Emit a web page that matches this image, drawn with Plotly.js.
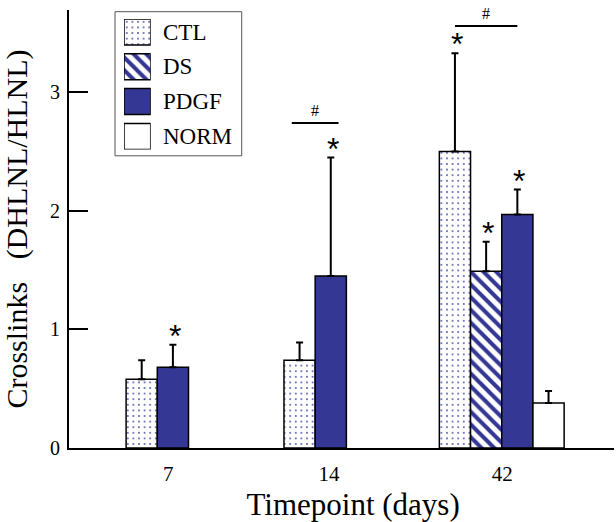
<!DOCTYPE html>
<html>
<head>
<meta charset="utf-8">
<script src="https://cdn.plot.ly/plotly-3.0.1.min.js"></script>
<style>html,body{margin:0;padding:0;background:#fff;}#chart{width:616px;height:522px;}</style>
</head>
<body>
<div id="chart"></div>
<script>
// ---------------- DATA ----------------
const categories = ['7', '14', '42'];
const seriesNames = ['CTL', 'DS', 'PDGF', 'NORM'];
const ctlMean  = [0.58, 0.74, 2.50];
const ctlSd    = [0.16, 0.15, 0.83];
const dsMean   = [null, null, 1.49];
const dsSd     = [null, null, 0.25];
const pdgfMean = [0.68, 1.45, 1.97];
const pdgfSd   = [0.19, 1.00, 0.21];
const normMean = [null, null, 0.38];
const normSd   = [null, null, 0.10];
// significance vs. normal (*)
const ctlStar  = [false, false, true];
const dsStar   = [false, false, true];
const pdgfStar = [true, true, true];
const normStar = [false, false, false];
// significance between groups (#)
const hashCategory = ['14', '42'];
const hashFrom     = ['CTL', 'CTL'];
const hashTo       = ['PDGF', 'PDGF'];
const hashLevel    = [2.74, 3.56];
const yTickVals = [0, 1, 2, 3];

// ---------------- LAYOUT CONSTANTS ----------------
const FONT = 'Liberation Serif, Times New Roman, serif';
const BLUE = '#343894';
const plotL = 69, plotR = 614, plotT = 10, plotB = 447.7, W = 616, H = 522;
const barPx = 31.2;                       // bar width in pixels = 1 axis unit
const xMax = (plotR - plotL) / barPx;
const groupCenter = [2.83, 7.89, 13.87];  // axis units
const labelShift  = [0.35, 0.44, 0.02];   // tick label offset of the original figure
const hashExt     = [0.25, 0.0];
const yMax = 3.694;

const means = {CTL: ctlMean, DS: dsMean, PDGF: pdgfMean, NORM: normMean};
const sds   = {CTL: ctlSd, DS: dsSd, PDGF: pdgfSd, NORM: normSd};
const stars = {CTL: ctlStar, DS: dsStar, PDGF: pdgfStar, NORM: normStar};
const styles = {
  CTL:  {color: '#ffffff', pattern: {shape: '.', fgcolor: '#4045a0', bgcolor: '#ffffff', size: 5.6, solidity: 0.08, fillmode: 'replace'}},
  DS:   {color: '#ffffff', pattern: {shape: '\\', fgcolor: BLUE, bgcolor: '#ffffff', size: 9, solidity: 0.45, fillmode: 'replace'}},
  PDGF: {color: BLUE},
  NORM: {color: '#ffffff'}
};

// positions of bars: present series placed side by side around the group centre
const pos = {};
seriesNames.forEach(s => pos[s] = categories.map(() => null));
categories.forEach((c, i) => {
  const present = seriesNames.filter(s => means[s][i] !== null);
  present.forEach((s, k) => { pos[s][i] = groupCenter[i] + (k - (present.length - 1) / 2); });
});

const traces = [];
const annotations = [];
const shapes = [];

seriesNames.forEach(s => {
  const xs = [], ys = [], es = [], em = [];
  categories.forEach((c, i) => {
    if (means[s][i] === null) return;
    xs.push(pos[s][i]); ys.push(means[s][i]); es.push(sds[s][i]); em.push(0);
    if (stars[s][i]) {
      annotations.push({x: pos[s][i], y: means[s][i] + sds[s][i], xref: 'x', yref: 'y',
        text: '*', showarrow: false, xshift: 2, yshift: 9, yanchor: 'middle',
        font: {family: 'Liberation Sans, Arial, sans-serif', size: 32, color: '#000'}});
    }
  });
  const m = {color: styles[s].color, line: {color: '#000', width: 1.5}};
  if (styles[s].pattern) m.pattern = styles[s].pattern;
  traces.push({type: 'bar', name: s, x: xs, y: ys, width: 1, marker: m, showlegend: false,
    error_y: {type: 'data', symmetric: false, array: es, arrayminus: em, color: '#000', thickness: 2, width: 3.5},
    hoverinfo: 'skip'});
});

// # brackets
hashCategory.forEach((c, j) => {
  const i = categories.indexOf(c);
  const x0 = pos[hashFrom[j]][i] - hashExt[j], x1 = pos[hashTo[j]][i] + hashExt[j];
  shapes.push({type: 'line', xref: 'x', yref: 'y', x0: x0, x1: x1, y0: hashLevel[j], y1: hashLevel[j],
    line: {color: '#000', width: 2}});
  annotations.push({x: (x0 + x1) / 2, y: hashLevel[j], xref: 'x', yref: 'y', text: '#', showarrow: false,
    yanchor: 'bottom', yshift: 2, font: {family: FONT, size: 16, color: '#000'}});
});

// custom legend (large swatches) drawn as a small inset subplot
const px2x = p => (p - plotL) / (plotR - plotL);
const px2y = p => (plotB - p) / (plotB - plotT);
const swL = 124, swR = 150.7, swTop = 19, swH = 26, swStep = 34.77;
const legH = swStep * (seriesNames.length - 1) + swH;
seriesNames.forEach((s, j) => {
  const m = {color: styles[s].color, line: {color: '#000', width: 1.5}};
  if (styles[s].pattern) m.pattern = styles[s].pattern;
  traces.push({type: 'bar', x: [0], y: [swH], base: [j * swStep], width: 1, xaxis: 'x2', yaxis: 'y2',
    marker: m, showlegend: false, hoverinfo: 'skip'});
  annotations.push({xref: 'paper', yref: 'paper', x: px2x(161), y: px2y(swTop + j * swStep + swH / 2),
    xanchor: 'left', yanchor: 'middle', text: s, showarrow: false, font: {family: FONT, size: 23, color: '#000'}});
});
shapes.push({type: 'rect', xref: 'paper', yref: 'paper', x0: px2x(115), x1: px2x(241.7), y0: px2y(155.7), y1: px2y(11.7),
  line: {color: '#555', width: 1}, fillcolor: 'rgba(0,0,0,0)', layer: 'below'});

const layout = {
  width: W, height: H,
  margin: {l: plotL, r: W - plotR, t: plotT, b: H - plotB, pad: 0},
  paper_bgcolor: '#fff', plot_bgcolor: '#fff',
  barmode: 'overlay',
  showlegend: false,
  font: {family: FONT, color: '#000'},
  xaxis: {range: [0, xMax], showgrid: false, zeroline: false, showline: true, linecolor: '#000', linewidth: 2,
    ticks: '', tickvals: groupCenter.map((g, i) => g + labelShift[i]), ticktext: categories,
    tickfont: {family: FONT, size: 21, color: '#000'}, ticklabelstandoff: 6,
    title: {text: '\u200b\u00a0\u00a0\u00a0Timepoint (days)', font: {family: FONT, size: 31, color: '#000'}, standoff: 8}},
  yaxis: {range: [0, yMax], showgrid: false, zeroline: false, showline: true, linecolor: '#000', linewidth: 2,
    ticks: 'inside', ticklen: 19, tickwidth: 2, tickcolor: '#000', tickvals: yTickVals,
    tickfont: {family: FONT, size: 20, color: '#000'}, ticklabelstandoff: 3,
    title: {text: 'Crosslinks\u00a0\u00a0\u00a0(DHLNL/HLNL)', font: {family: FONT, size: 30, color: '#000'}, standoff: 17}},
  xaxis2: {domain: [px2x(swL), px2x(swR)], range: [-0.5, 0.5], visible: false, anchor: 'y2', fixedrange: true},
  yaxis2: {domain: [px2y(swTop + legH), px2y(swTop)], range: [legH, 0], visible: false, anchor: 'x2', fixedrange: true},
  annotations: annotations,
  shapes: shapes
};

Plotly.newPlot('chart', traces, layout, {displayModeBar: false, staticPlot: true});
</script>
</body>
</html>
